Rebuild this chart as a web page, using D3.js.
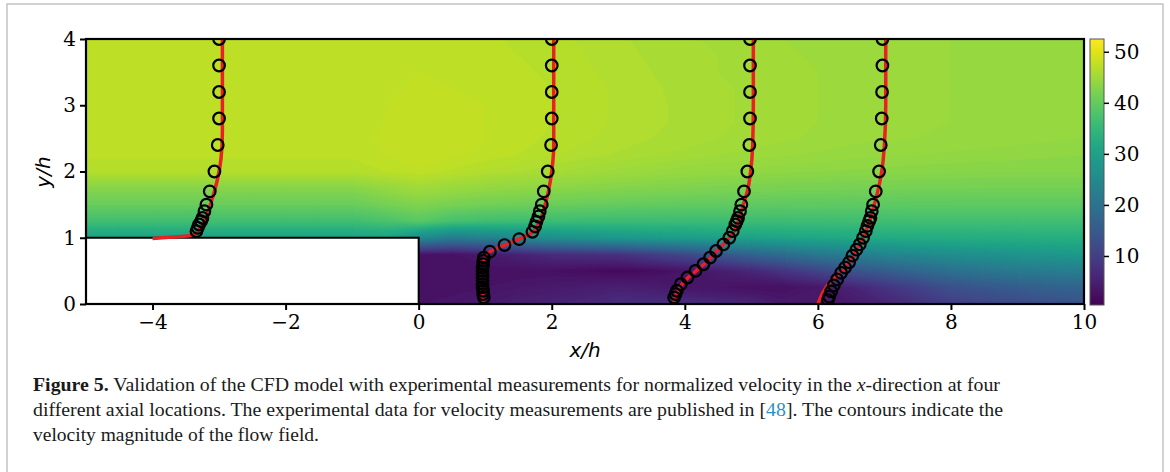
<!DOCTYPE html>
<html>
<head>
<meta charset="utf-8">
<script src="https://cdn.jsdelivr.net/npm/d3@7"></script>
<style>
  body { margin: 0; background: #fff; }
  .tick text { font-family: "DejaVu Serif", serif; font-size: 20px; fill: #000; }
  .caption { font-family: "Liberation Serif", serif; font-size: 19.5px; fill: #1a1a1a; }
</style>
</head>
<body>
<div id="chart"></div>
<script>
// axis ticks
var xTicks = [-4, -2, 0, 2, 4, 6, 8, 10];
var yTicks = [0, 1, 2, 3, 4];
var cbarTicks = [10, 20, 30, 40, 50];
var cbarDomain = [0.4, 52.5];

// velocity magnitude field (rows from y=4 down to y=0)
var fieldX = [-5, -4.5, -4, -3.5, -3, -2.5, -2, -1.5, -1, -0.5, 0, 0.5, 1, 1.5, 2, 2.5, 3, 3.5, 4, 4.5, 5, 5.5, 6, 6.5, 7, 7.5, 8, 8.5, 9, 9.5, 10];
var fieldY = [4, 3.75, 3.5, 3.25, 3, 2.75, 2.5, 2.25, 2, 1.75, 1.5, 1.25, 1, 0.75, 0.5, 0.25, 0];
var fieldU = [
  [47.3,47.3,47.3,47.3,47.3,47.3,47.3,47.3,47.3,47.3, 47.3,47.2,47.1,46.9,46.7,46.4,46.1,45.8,45.6,45.4,45.2,45.0,44.9,44.8,44.7,44.6,44.5,44.4,44.3,44.2,44.1],
  [47.3,47.3,47.3,47.3,47.3,47.3,47.3,47.3,47.3,47.3, 47.4,47.3,47.2,47.0,46.8,46.5,46.2,45.9,45.7,45.5,45.3,45.1,44.9,44.8,44.7,44.6,44.5,44.4,44.3,44.2,44.1],
  [47.3,47.3,47.3,47.3,47.3,47.3,47.3,47.3,47.3,47.3, 47.5,47.4,47.3,47.1,46.9,46.6,46.3,46.0,45.8,45.5,45.3,45.1,45.0,44.8,44.7,44.6,44.5,44.4,44.3,44.2,44.1],
  [47.3,47.3,47.3,47.3,47.3,47.3,47.3,47.3,47.3,47.4, 47.6,47.5,47.4,47.2,47.0,46.7,46.4,46.1,45.8,45.6,45.4,45.2,45.0,44.9,44.7,44.6,44.5,44.4,44.3,44.2,44.1],
  [47.3,47.3,47.3,47.3,47.3,47.3,47.3,47.3,47.3,47.5, 47.7,47.6,47.5,47.3,47.0,46.7,46.4,46.1,45.9,45.6,45.4,45.2,45.0,44.9,44.7,44.6,44.5,44.4,44.3,44.2,44.1],
  [47.3,47.3,47.3,47.3,47.3,47.3,47.3,47.3,47.3,47.5, 47.8,47.7,47.5,47.3,47.0,46.7,46.4,46.1,45.9,45.6,45.4,45.2,45.0,44.8,44.7,44.6,44.5,44.4,44.3,44.2,44.1],
  [47.3,47.3,47.3,47.3,47.3,47.3,47.3,47.3,47.3,47.6, 47.9,47.8,47.5,47.2,46.9,46.6,46.3,46.0,45.8,45.5,45.3,45.1,44.9,44.7,44.6,44.5,44.4,44.3,44.2,44.1,44.0],
  [47.1,47.1,47.1,47.1,47.1,47.1,47.1,47.1,47.1,47.5, 47.9,47.6,47.3,47.0,46.6,46.2,45.9,45.6,45.3,45.0,44.8,44.6,44.4,44.2,44.1,44.0,43.9,43.8,43.7,43.6,43.5],
  [46.6,46.6,46.6,46.6,46.6,46.6,46.6,46.6,46.6,47.0, 47.4,46.9,46.4,46.0,45.6,45.2,44.8,44.5,44.2,44.0,43.8,43.6,43.5,43.4,43.3,43.2,43.1,43.0,43.0,43.0,43.0],
  [43.0,43.0,43.0,43.0,43.0,43.0,43.0,43.0,43.0,44.0, 45.0,44.5,44.0,43.7,43.4,43.1,42.8,42.6,42.4,42.2,42.0,41.9,41.8,41.7,41.7,41.6,41.6,41.5,41.5,41.5,41.5],
  [40.5,40.5,40.5,40.5,40.5,40.5,40.5,40.5,40.5,41.5, 42.5,41.8,41.3,41.0,40.7,40.4,40.2,40.0,39.9,39.8,39.7,39.6,39.6,39.5,39.5,39.5,39.5,39.5,39.5,39.5,39.5],
  [36.5,36.5,36.5,36.5,36.5,36.5,36.5,36.5,36.5,37.5, 39.0,37.0,36.5,36.2,36.0,35.9,35.8,35.8,35.8,35.9,36.0,36.1,36.2,36.3,36.4,36.5,36.5,36.5,36.5,36.5,36.5],
  [30.0,30.0,30.0,30.0,30.0,30.0,30.0,30.0,30.0,30.0, 25.0,22.0,23.0,24.5,26.0,27.0,28.0,28.6,29.2,29.8,30.3,30.8,31.2,31.6,32.0,32.3,32.5,32.7,32.8,32.9,33.0],
  [30.0,30.0,30.0,30.0,30.0,30.0,30.0,30.0,30.0,30.0,  3.0, 3.0, 4.0, 5.5, 7.0, 7.5, 8.0,10.0,12.0,14.5,17.0,19.0,21.0,22.5,24.0,25.0,26.0,26.8,27.5,28.0,28.5],
  [30.0,30.0,30.0,30.0,30.0,30.0,30.0,30.0,30.0,30.0,  2.5, 2.5, 2.5, 2.5, 2.5, 2.0, 1.5, 2.0, 3.0, 4.5, 6.0, 8.5,11.0,13.5,15.5,17.5,19.5,20.5,21.5,22.0,22.5],
  [30.0,30.0,30.0,30.0,30.0,30.0,30.0,30.0,30.0,30.0,  2.5, 2.5, 3.0, 3.5, 4.0, 4.5, 5.0, 4.5, 3.5, 3.0, 2.5, 2.5, 3.5, 5.5, 8.0,10.5,13.0,14.5,15.5,16.5,17.0],
  [30.0,30.0,30.0,30.0,30.0,30.0,30.0,30.0,30.0,30.0,  3.0, 3.5, 4.0, 5.0, 5.5, 6.0, 7.0, 7.0, 7.0, 6.5, 6.0, 4.0, 3.5, 4.0, 5.5, 7.5,10.0,11.0,12.0,13.0,13.5]
];

// profile stations (x/h where u = 0)
var stations = [-4, 1, 4, 6];

// experimental points: y/h and normalized u
var exp1Y = [4.0, 3.6, 3.2, 2.8, 2.4, 2.0, 1.7, 1.5, 1.4, 1.3, 1.25, 1.2, 1.15, 1.1];
var exp1U = [1.0, 1.0, 1.0, 1.0, 0.98, 0.93, 0.86, 0.81, 0.78, 0.75, 0.73, 0.70, 0.68, 0.66];
var exp2Y = [4.0, 3.6, 3.2, 2.8, 2.4, 2.0, 1.7, 1.5, 1.4, 1.32, 1.24, 1.17, 1.09, 0.98, 0.89, 0.79, 0.7, 0.65, 0.6, 0.55, 0.5, 0.45, 0.4, 0.35, 0.3, 0.25, 0.2, 0.15, 0.1];
var exp2U = [1.0, 1.0, 1.0, 1.0, 0.99, 0.94, 0.88, 0.85, 0.82, 0.80, 0.77, 0.75, 0.71, 0.51, 0.29, 0.07, -0.02, -0.03, -0.03, -0.04, -0.04, -0.04, -0.04, -0.04, -0.04, -0.04, -0.03, -0.03, -0.02];
var exp3Y = [4.0, 3.6, 3.2, 2.8, 2.4, 2.0, 1.7, 1.5, 1.4, 1.3, 1.25, 1.2, 1.1, 1.0, 0.9, 0.8, 0.7, 0.6, 0.5, 0.4, 0.3, 0.2, 0.15, 0.1];
var exp3U = [0.98, 0.98, 0.98, 0.98, 0.97, 0.94, 0.89, 0.85, 0.83, 0.80, 0.78, 0.76, 0.72, 0.67, 0.58, 0.47, 0.38, 0.28, 0.16, 0.04, -0.06, -0.12, -0.14, -0.16];
var exp4Y = [4.0, 3.6, 3.2, 2.8, 2.4, 2.0, 1.7, 1.5, 1.4, 1.3, 1.25, 1.18, 1.1, 1.0, 0.9, 0.82, 0.73, 0.63, 0.55, 0.47, 0.37, 0.28, 0.19, 0.11, 0.06];
var exp4U = [0.97, 0.97, 0.965, 0.96, 0.945, 0.92, 0.87, 0.83, 0.81, 0.79, 0.77, 0.745, 0.72, 0.68, 0.63, 0.58, 0.52, 0.47, 0.41, 0.35, 0.29, 0.24, 0.20, 0.17, 0.15];

// CFD profiles
var cfd1Y = [0.99, 1.0, 1.01, 1.02, 1.03, 1.06, 1.12, 1.2, 1.35, 1.6, 1.9, 2.2, 2.6, 3.0, 4.0];
var cfd1U = [0.0, 0.15, 0.3, 0.42, 0.55, 0.63, 0.7, 0.75, 0.82, 0.9, 0.98, 1.03, 1.05, 1.05, 1.05];
var cfd2Y = [0, 0.2, 0.4, 0.6, 0.67, 0.73, 0.79, 0.89, 0.98, 1.09, 1.2, 1.3, 1.5, 1.7, 2.0, 2.4, 3.0, 4.0];
var cfd2U = [-0.03, -0.04, -0.04, -0.035, -0.02, 0.01, 0.07, 0.29, 0.51, 0.72, 0.79, 0.84, 0.9, 0.95, 1.0, 1.03, 1.03, 1.03];
var cfd3Y = [0, 0.1, 0.2, 0.3, 0.4, 0.5, 0.6, 0.7, 0.8, 0.9, 1.0, 1.1, 1.3, 1.5, 1.7, 2.0, 2.4, 3.0, 4.0];
var cfd3U = [-0.17, -0.15, -0.1, -0.04, 0.05, 0.17, 0.29, 0.39, 0.48, 0.58, 0.67, 0.74, 0.82, 0.88, 0.94, 0.99, 1.02, 1.03, 1.03];
var cfd4Y = [0, 0.1, 0.2, 0.3, 0.4, 0.5, 0.6, 0.8, 1.0, 1.2, 1.4, 1.7, 2.0, 2.4, 3.0, 4.0];
var cfd4U = [0.0, 0.04, 0.09, 0.16, 0.26, 0.37, 0.45, 0.57, 0.68, 0.76, 0.82, 0.9, 0.96, 1.0, 1.02, 1.02];

var expY = [exp1Y, exp2Y, exp3Y, exp4Y], expU = [exp1U, exp2U, exp3U, exp4U];
var cfdY = [cfd1Y, cfd2Y, cfd3Y, cfd4Y], cfdU = [cfd1U, cfd2U, cfd3U, cfd4U];

var width = 1170, height = 472;

var svg = d3.select("#chart").append("svg")
    .attr("width", width)
    .attr("height", height);

// page frame
svg.append("rect")
    .attr("x", 7).attr("y", 4)
    .attr("width", 1156).attr("height", 490)
    .style("fill", "none").style("stroke", "#c4c4c4").style("stroke-width", 1.5);

var xScale = d3.scaleLinear().domain([-5, 10]).range([86, 1084]);
var yScale = d3.scaleLinear().domain([0, 4]).range([304, 39]);
var color = d3.scaleSequential(d3.interpolateViridis).domain(cbarDomain);

svg.append("clipPath").attr("id", "plotclip")
  .append("rect")
    .attr("x", xScale(-5)).attr("y", yScale(4))
    .attr("width", xScale(10) - xScale(-5)).attr("height", yScale(0) - yScale(4));

//Contour bands of the velocity field
var nx = fieldX.length, ny = fieldY.length;
var levels = d3.range(0, 53, 0.5);
var contours = d3.contours().size([nx, ny]).thresholds(levels)(fieldU.flat());

var colIdx = d3.scaleLinear().domain([0.5, nx - 0.5]).range([fieldX[0], fieldX[nx - 1]]);
var rowIdx = d3.scaleLinear().domain([0.5, ny - 0.5]).range([fieldY[0], fieldY[ny - 1]]);
var gridPath = d3.geoPath(d3.geoTransform({
    point: function(x, y) { this.stream.point(xScale(colIdx(x)), yScale(rowIdx(y))); }
}));

svg.append("g")
    .attr("clip-path", "url(#plotclip)")
  .selectAll("path")
    .data(contours)
    .enter().append("path")
    .attr("d", gridPath)
    .style("fill", function(d) { return color(d.value + 0.25); })
    .style("stroke", function(d) { return color(d.value + 0.25); })
    .style("stroke-width", 0.6);

// the step (solid block)
svg.append("rect")
    .attr("x", xScale(-5)).attr("y", yScale(1))
    .attr("width", xScale(0) - xScale(-5)).attr("height", yScale(0) - yScale(1))
    .style("fill", "#fff").style("stroke", "#000").style("stroke-width", 2);

var profiles = svg.append("g").attr("clip-path", "url(#plotclip)");

var line = d3.line()
    .x(function(d) { return xScale(d.x); })
    .y(function(d) { return yScale(d.y); })
    .curve(d3.curveMonotoneY);

stations.forEach(function(s, k) {
    var pts = cfdY[k].map(function(y, i) { return {x: s + cfdU[k][i], y: y}; });
    profiles.append("path")
        .datum(pts)
        .attr("d", line)
        .style("fill", "none")
        .style("stroke", "#ea2024")
        .style("stroke-width", 3.5);
});

stations.forEach(function(s, k) {
    profiles.selectAll(".exp" + k)
        .data(expY[k].map(function(y, i) { return {x: s + expU[k][i], y: y}; }))
        .enter().append("circle")
        .attr("class", "exp" + k)
        .attr("cx", function(d) { return xScale(d.x); })
        .attr("cy", function(d) { return yScale(d.y); })
        .attr("r", 5.8)
        .style("fill", "none")
        .style("stroke", "#000")
        .style("stroke-width", 2.2);
});

// axes
var xAxis = svg.append("g")
    .attr("transform", "translate(0," + yScale(0) + ")")
    .call(d3.axisBottom(xScale).tickValues(xTicks).tickSize(6).tickPadding(5));
var yAxis = svg.append("g")
    .attr("transform", "translate(" + xScale(-5) + ",0)")
    .call(d3.axisLeft(yScale).tickValues(yTicks).tickFormat(d3.format("d")).tickSize(6).tickPadding(4));
[xAxis, yAxis].forEach(function(a) {
    a.select(".domain").remove();
    a.selectAll(".tick line").style("stroke", "#000").style("stroke-width", 2);
});

// plot frame
svg.append("rect")
    .attr("x", xScale(-5)).attr("y", yScale(4))
    .attr("width", xScale(10) - xScale(-5)).attr("height", yScale(0) - yScale(4))
    .style("fill", "none").style("stroke", "#000").style("stroke-width", 2.2);

svg.append("text")
    .attr("x", 585).attr("y", 357)
    .attr("text-anchor", "middle")
    .style("font-family", "DejaVu Sans").style("font-style", "italic").style("font-size", "20px")
    .text("x/h");
svg.append("text")
    .attr("transform", "translate(50,172) rotate(-90)")
    .attr("text-anchor", "middle")
    .style("font-family", "DejaVu Sans").style("font-style", "italic").style("font-size", "20px")
    .text("y/h");

// colour bar
var cbarY = d3.scaleLinear().domain(cbarDomain).range([305, 39]);
var grad = svg.append("defs").append("linearGradient")
    .attr("id", "cbar").attr("x1", 0).attr("y1", 1).attr("x2", 0).attr("y2", 0);
grad.selectAll("stop")
    .data(d3.range(0, 1.0001, 0.05))
    .enter().append("stop")
    .attr("offset", function(d) { return d; })
    .attr("stop-color", function(d) { return d3.interpolateViridis(d); });

svg.append("rect")
    .attr("x", 1090).attr("y", cbarY(cbarDomain[1]))
    .attr("width", 14).attr("height", cbarY(cbarDomain[0]) - cbarY(cbarDomain[1]))
    .style("fill", "url(#cbar)").style("stroke", "#555").style("stroke-width", 1);

var cAxis = svg.append("g")
    .attr("transform", "translate(1104,0)")
    .call(d3.axisRight(cbarY).tickValues(cbarTicks).tickSize(5).tickPadding(5));
cAxis.select(".domain").remove();
cAxis.selectAll(".tick line").style("stroke", "#000").style("stroke-width", 1.5);

// caption
var cap = svg.append("g");
var l1 = cap.append("text").attr("class", "caption").attr("x", 33).attr("y", 391)
    .attr("textLength", 967).attr("lengthAdjust", "spacingAndGlyphs");
l1.append("tspan").style("font-weight", "bold").text("Figure 5.");
l1.append("tspan").text(" Validation of the CFD model with experimental measurements for normalized velocity in the ");
l1.append("tspan").style("font-style", "italic").text("x");
l1.append("tspan").text("-direction at four");

var l2 = cap.append("text").attr("class", "caption").attr("x", 33).attr("y", 416)
    .attr("textLength", 970).attr("lengthAdjust", "spacingAndGlyphs");
l2.append("tspan").text("different axial locations. The experimental data for velocity measurements are published in [");
l2.append("tspan").style("fill", "#2b8fc6").text("48");
l2.append("tspan").text("]. The contours indicate the");

cap.append("text").attr("class", "caption").attr("x", 33).attr("y", 441)
    .text("velocity magnitude of the flow field.");
</script>
</body>
</html>
